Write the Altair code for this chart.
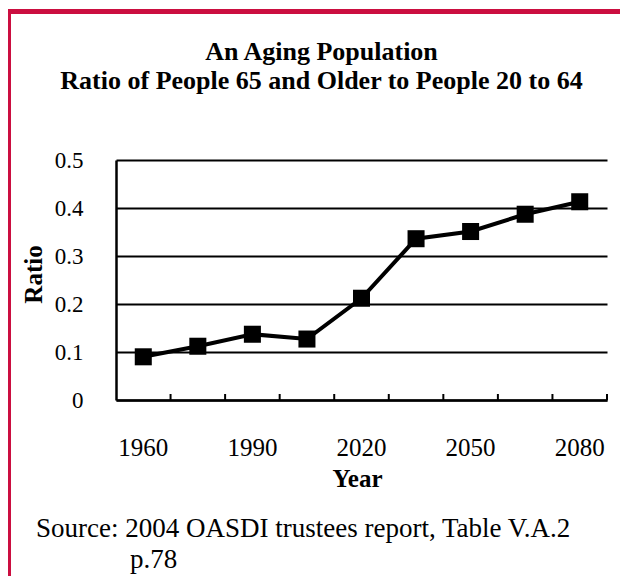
import altair as alt
import pandas as pd

years = [1960, 1975, 1990, 2005, 2020, 2035, 2050, 2065, 2080]
ratios = [0.090, 0.112, 0.137, 0.127, 0.212, 0.336, 0.351, 0.387, 0.413]
x_label_years = [1960, 1990, 2020, 2050, 2080]
y_ticks = [0, 0.1, 0.2, 0.3, 0.4, 0.5]
title_lines = ["An Aging Population", "Ratio of People 65 and Older to People 20 to 64"]
source_lines = ["Source: 2004 OASDI trustees report, Table V.A.2", "p.78"]

df = pd.DataFrame({"Year": years, "Ratio": ratios})

W, H = 491, 240
FONT = "Liberation Serif"
BORDER = "#CB0E40"

xscale = alt.Scale(paddingInner=0, paddingOuter=0)
yscale = alt.Scale(domain=[0, 0.5], nice=False)

x_axis = alt.Axis(
    values=x_label_years, labelAngle=0, labelFont=FONT, labelFontSize=25,
    labelColor="black", labelPadding=55, labelBaseline="alphabetic",
    ticks=False, tickSize=0, domainColor="black", domainWidth=2.5,
    title="Year", titleFont=FONT, titleFontSize=25, titleFontWeight="bold",
    titleColor="black", titleX=241, titleY=86, titleAlign="center",
    titleBaseline="alphabetic", grid=False, labelOverlap=False,
)
y_axis = alt.Axis(
    values=y_ticks, labelExpr="datum.value == 0 ? '0' : format(datum.value, '.1f')",
    labelFont=FONT, labelFontSize=23, labelColor="black", labelPadding=33,
    ticks=False, tickSize=0, domainColor="black", domainWidth=2.5,
    grid=True, gridColor="black", gridWidth=2, gridOpacity=1,
    title="Ratio", titleFont=FONT, titleFontSize=25, titleFontWeight="bold",
    titleColor="black", titleX=-83, titleY=114, titleAngle=270,
    titleAlign="center", titleBaseline="middle",
)

X = alt.X("Year:O", sort=years, scale=xscale, axis=x_axis)
Y = alt.Y("Ratio:Q", scale=yscale, axis=y_axis)

base = alt.Chart(df)
line = base.mark_line(color="black", strokeWidth=4).encode(x=X, y=Y)
points = base.mark_square(size=290, color="black", opacity=1, filled=True).encode(x=X, y=Y)
ticks = base.mark_rule(color="black", strokeWidth=2).encode(
    x=alt.X("Year:O", sort=years, scale=xscale, bandPosition=1, axis=x_axis),
    y=alt.value(H), y2=alt.value(H - 6),
)

one = pd.DataFrame({"k": [0]})
border = alt.Chart(one).mark_rect(fillOpacity=0, stroke=BORDER, strokeWidth=5).encode(
    x=alt.value(-107.5), x2=alt.value(1000), y=alt.value(-148.5), y2=alt.value(1000)
)

def text_layer(txt, x, y, size, weight="normal", align="center"):
    return alt.Chart(pd.DataFrame({"t": [txt]})).mark_text(
        font=FONT, fontSize=size, fontWeight=weight, color="black",
        align=align, baseline="alphabetic",
    ).encode(text="t:N", x=alt.value(x), y=alt.value(y))

t1 = text_layer(title_lines[0], 205.5, -100, 26, "bold")
t2 = text_layer(title_lines[1], 205.5, -71, 26, "bold")
s1 = text_layer(source_lines[0], -80, 377, 27, "normal", "left")
s2 = text_layer(source_lines[1], 14, 408, 27, "normal", "left")

chart = alt.layer(line, ticks, points, border, t1, t2, s1, s2).properties(
    width=W, height=H, autosize="none",
    padding={"left": 108, "top": 152, "right": 13, "bottom": 176},
    background="white",
).configure_view(stroke=None)

chart.save("out.html", embed_options={"renderer": "svg", "actions": False})
